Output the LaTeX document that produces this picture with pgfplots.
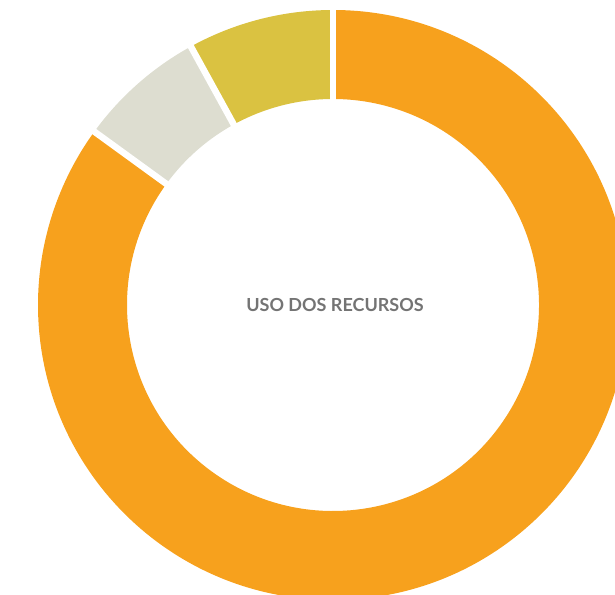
\documentclass[border=0pt]{standalone}
\usepackage{pgfplots}
\usepackage{pgfplotstable}
\pgfplotsset{compat=1.18}
\usepackage{fontspec}
\setmainfont{Lato}
\definecolor{cOrange}{HTML}{F7A11D}
\definecolor{cGray}{HTML}{DDDDD0}
\definecolor{cYellow}{HTML}{DAC241}
\definecolor{cText}{HTML}{747474}
\pgfplotstableread{
label value
Orange 85
Gray 7
Yellow 8
}\datatable
\def\cx{333}\def\cy{289}\def\Ro{295}\def\Ri{206}
\newcommand\sector[3]{%
  \fill[#3] (axis cs:{\cx+\Ro*cos(#1)},{\cy+\Ro*sin(#1)}) arc[start angle=#1, end angle=#2, radius=\Ro pt]
     -- (axis cs:{\cx+\Ri*cos(#2)},{\cy+\Ri*sin(#2)}) arc[start angle=#2, end angle=#1, radius=\Ri pt] -- cycle;}
\newcommand\gap[1]{%
  \draw[white, line width=6.5pt] (axis cs:{\cx+(\Ri-3)*cos(#1)},{\cy+(\Ri-3)*sin(#1)}) -- (axis cs:{\cx+(\Ro+3)*cos(#1)},{\cy+(\Ro+3)*sin(#1)});}
\begin{document}
\begin{tikzpicture}
\pgfplotstablegetelem{0}{value}\of\datatable \let\va\pgfplotsretval
\pgfplotstablegetelem{1}{value}\of\datatable \let\vb\pgfplotsretval
\pgfplotstablegetelem{2}{value}\of\datatable \let\vc\pgfplotsretval
\pgfmathsetmacro\tot{\va+\vb+\vc}
\pgfmathsetmacro\aA{90}
\pgfmathsetmacro\aB{90-360*(\va/\tot)}
\pgfmathsetmacro\aC{\aB-360*(\vb/\tot)}
\pgfmathsetmacro\aD{-270}
\begin{axis}[
  scale only axis, width=615pt, height=594pt,
  xmin=0, xmax=615, ymin=0, ymax=594,
  hide axis, clip=true,
]
\sector{\aA}{\aB}{cOrange}
\sector{\aB}{\aC}{cGray}
\sector{\aC}{\aD}{cYellow}
\gap{\aA}\gap{\aB}\gap{\aC}
\node[text=cText, font=\fontsize{18}{20}\selectfont\bfseries] at (axis cs:335,289) {USO DOS RECURSOS};
\end{axis}
\pgfresetboundingbox
\useasboundingbox (current axis.south west) rectangle (current axis.north east);
\end{tikzpicture}
\end{document}
